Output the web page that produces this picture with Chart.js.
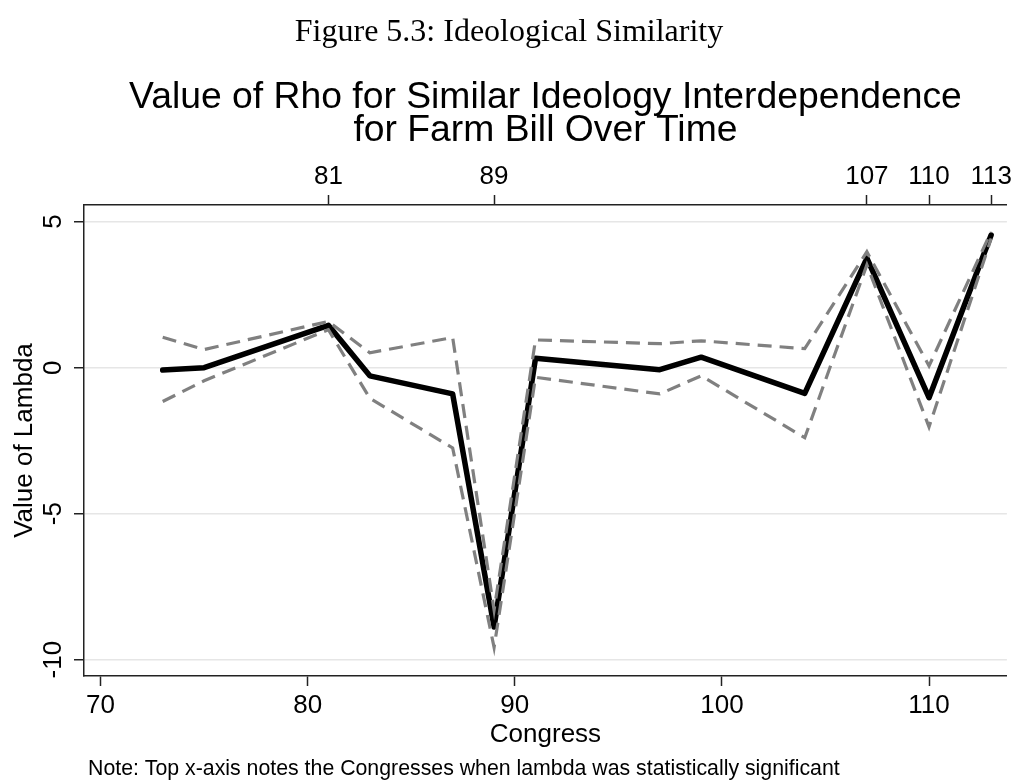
<!DOCTYPE html>
<html>
<head>
<meta charset="utf-8">
<script src="https://cdn.jsdelivr.net/npm/chart.js@4.4.0/dist/chart.umd.min.js"></script>
<style>
  html, body { margin: 0; padding: 0; background: #fff; }
  #wrap { width: 1015px; height: 780px; }
</style>
</head>
<body>
<div id="wrap"><canvas id="c" width="1015" height="780"></canvas></div>
<script>
// ---- data ----
const congress = [73, 75, 81, 83, 87, 89, 91, 97, 99, 104, 107, 110, 113];
const rho      = [-0.08, 0.00, 1.45, -0.28, -0.90, -8.88, 0.32, -0.07, 0.36, -0.88, 3.75, -1.03, 4.54];
const upperCI  = [1.04, 0.62, 1.58, 0.51, 1.03, -8.30, 0.95, 0.82, 0.92, 0.65, 3.97, 0.06, 4.66];
const lowerCI  = [-1.16, -0.45, 1.30, -1.05, -2.75, -9.58, -0.33, -0.90, -0.28, -2.40, 3.52, -2.03, 4.42];

const bottomTicks = [70, 80, 90, 100, 110];
const topTicks    = [81, 89, 107, 110, 113];
const yTicks      = [-10, -5, 0, 5];

const captionText = "Figure 5.3: Ideological Similarity";
const titleLines  = ["Value of Rho for Similar Ideology Interdependence", "for Farm Bill Over Time"];
const xTitle = "Congress";
const yTitle = "Value of Lambda";
const noteText = "Note: Top x-axis notes the Congresses when lambda was statistically significant";

const pts = arr => congress.map((c, i) => ({ x: c, y: arr[i] }));

const SANS = "'Liberation Sans', Arial, Helvetica, sans-serif";
const SERIF = "'Liberation Serif', 'Times New Roman', serif";
const AXIS_DARK = '#222';

const textPlugin = {
  id: 'texts',
  afterDraw(chart) {
    const ctx = chart.ctx;
    const area = chart.chartArea;
    const cx = (area.left + area.right) / 2;
    ctx.save();
    ctx.fillStyle = '#000';
    ctx.textAlign = 'center';
    ctx.textBaseline = 'alphabetic';
    ctx.font = "32px " + SERIF;
    ctx.fillText(captionText, 509, 41);
    ctx.font = "37.3px " + SANS;
    ctx.fillText(titleLines[0], cx, 108);
    ctx.fillText(titleLines[1], cx, 141);
    // y tick labels (rotated)
    const ys = chart.scales.y;
    ctx.font = "26px " + SANS;
    ctx.textBaseline = 'middle';
    yTicks.forEach(v => {
      const py = ys.getPixelForValue(v);
      ctx.save();
      ctx.translate(54, py);
      ctx.rotate(-Math.PI / 2);
      ctx.fillText(String(v), 0, 0);
      ctx.restore();
    });
    // note
    ctx.textAlign = 'left';
    ctx.textBaseline = 'alphabetic';
    ctx.font = "21.3px " + SANS;
    ctx.fillText(noteText, 88, 775);
    ctx.restore();
  }
};

new Chart(document.getElementById('c'), {
  type: 'line',
  data: {
    datasets: [
      { label: 'Upper', data: pts(upperCI), borderColor: '#808080', borderWidth: 3.2,
        borderDash: [14, 8], pointRadius: 0, tension: 0, fill: false, order: 1,
        borderJoinStyle: 'miter', xAxisID: 'x', yAxisID: 'y' },
      { label: 'Lower', data: pts(lowerCI), borderColor: '#808080', borderWidth: 3.2,
        borderDash: [14, 8], pointRadius: 0, tension: 0, fill: false, order: 1,
        borderJoinStyle: 'miter', xAxisID: 'x', yAxisID: 'y' },
      { label: 'Rho', data: pts(rho), borderColor: '#000', borderWidth: 5.5,
        pointRadius: 0, tension: 0, fill: false, order: 2,
        borderJoinStyle: 'round', borderCapStyle: 'round', xAxisID: 'x', yAxisID: 'y' }
    ]
  },
  options: {
    responsive: false,
    animation: false,
    devicePixelRatio: 1,
    layout: { padding: { left: 0, right: 7, top: 0, bottom: 0 } },
    plugins: { legend: { display: false }, tooltip: { enabled: false }, title: { display: false } },
    scales: {
      x: {
        type: 'linear', position: 'bottom', min: 69.2, max: 113.76,
        afterBuildTicks: s => { s.ticks = bottomTicks.map(v => ({ value: v })); },
        afterFit: s => { s.height = 104; },
        ticks: { color: '#000', font: { family: SANS, size: 26 }, padding: 4, maxRotation: 0, autoSkip: false },
        grid: { drawOnChartArea: false, tickLength: 10, tickColor: AXIS_DARK, tickWidth: 1.5 },
        border: { display: true, color: AXIS_DARK, width: 1.5 },
        title: { display: true, text: xTitle, color: '#000', font: { family: SANS, size: 26 }, padding: { top: 0, bottom: 30 } }
      },
      x2: {
        type: 'linear', position: 'top', min: 69.2, max: 113.76,
        afterBuildTicks: s => { s.ticks = topTicks.map(v => ({ value: v })); },
        afterFit: s => { s.height = 205; },
        ticks: { color: '#000', font: { family: SANS, size: 26 }, padding: 3, maxRotation: 0, autoSkip: false },
        grid: { drawOnChartArea: false, tickLength: 10, tickColor: AXIS_DARK, tickWidth: 1.5 },
        border: { display: true, color: AXIS_DARK, width: 1.5 }
      },
      y: {
        type: 'linear', position: 'left', min: -10.56, max: 5.57,
        afterBuildTicks: s => { s.ticks = yTicks.map(v => ({ value: v })); },
        afterFit: s => { s.width = 84; },
        ticks: { display: false },
        grid: { color: '#e6e6e6', lineWidth: 1.5, tickLength: 10, tickColor: AXIS_DARK, tickWidth: 1.5 },
        border: { display: true, color: AXIS_DARK, width: 1.5 },
        title: { display: true, text: yTitle, color: '#000', font: { family: SANS, size: 26 }, padding: { top: 9, bottom: 0 } }
      }
    }
  },
  plugins: [textPlugin]
});
</script>
</body>
</html>
